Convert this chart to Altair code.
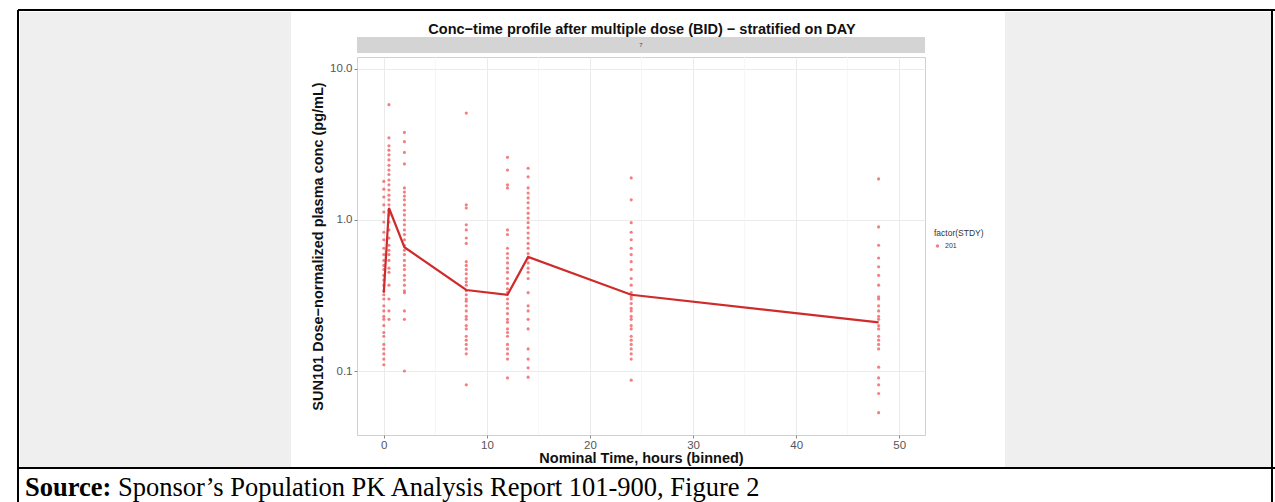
import altair as alt
import pandas as pd

# ---------------- data ----------------
bin_times = [0, 0.5, 2, 8, 12, 14, 24, 48]

conc_t0 = [1.8, 1.6, 1.42, 1.26, 1.13, 0.97, 0.83, 0.74, 0.65, 0.59, 0.54, 0.50, 0.47,
           0.43, 0.40, 0.37, 0.34, 0.32, 0.30, 0.27, 0.25, 0.23, 0.22, 0.20, 0.18, 0.17,
           0.15, 0.14, 0.13, 0.12, 0.11]
conc_t05 = [5.8, 3.5, 3.1, 2.9, 2.7, 2.5, 2.3, 2.14, 2.0, 1.84, 1.71, 1.58, 1.46, 1.36,
            1.26, 1.16, 1.08, 0.97, 0.86, 0.76, 0.68, 0.63, 0.59, 0.54, 0.48, 0.45, 0.37,
            0.30, 0.25, 0.22]
conc_t2 = [3.8, 3.3, 2.8, 2.35, 1.63, 1.53, 1.44, 1.36, 1.26, 1.16, 1.08, 1.0, 0.93, 0.86,
           0.80, 0.74, 0.68, 0.63, 0.59, 0.54, 0.50, 0.47, 0.43, 0.40, 0.37, 0.34, 0.33,
           0.25, 0.22, 0.10]
conc_t8 = [5.1, 1.26, 1.2, 0.93, 0.86, 0.76, 0.70, 0.53, 0.50, 0.47, 0.44, 0.41, 0.39,
           0.37, 0.34, 0.32, 0.30, 0.29, 0.27, 0.25, 0.23, 0.22, 0.20, 0.19, 0.17, 0.16,
           0.15, 0.14, 0.13, 0.081]
conc_t12 = [2.6, 2.14, 1.71, 1.63, 0.86, 0.80, 0.65, 0.60, 0.56, 0.52, 0.48, 0.45, 0.41,
            0.38, 0.35, 0.33, 0.30, 0.28, 0.26, 0.24, 0.22, 0.21, 0.19, 0.18, 0.17, 0.15,
            0.14, 0.13, 0.12, 0.09]
conc_t14 = [2.2, 1.93, 1.63, 1.51, 1.40, 1.30, 1.20, 1.11, 1.03, 0.96, 0.89, 0.82, 0.76,
            0.70, 0.65, 0.60, 0.56, 0.52, 0.48, 0.45, 0.41, 0.33, 0.27, 0.25, 0.22, 0.19,
            0.14, 0.12, 0.105, 0.091]
conc_t24 = [1.9, 1.36, 0.96, 0.83, 0.74, 0.65, 0.59, 0.53, 0.47, 0.41, 0.37, 0.33, 0.31,
            0.30, 0.28, 0.26, 0.25, 0.23, 0.22, 0.20, 0.19, 0.17, 0.16, 0.15, 0.14, 0.13,
            0.12, 0.087]
conc_t48 = [1.87, 0.90, 0.68, 0.56, 0.49, 0.43, 0.37, 0.31, 0.30, 0.27, 0.25, 0.23, 0.22,
            0.20, 0.19, 0.17, 0.16, 0.15, 0.14, 0.106, 0.09, 0.081, 0.071, 0.053]

conc_by_bin = [conc_t0, conc_t05, conc_t2, conc_t8, conc_t12, conc_t14, conc_t24, conc_t48]

line_times = [0, 0.5, 2, 8, 12, 14, 24, 48]
line_conc = [0.33, 1.2, 0.66, 0.344, 0.32, 0.57, 0.32, 0.21]

x_ticks = [0, 10, 20, 30, 40, 50]
x_minor = [5, 15, 25, 35, 45]
y_ticks = [0.1, 1.0, 10.0]
study_label = "201"
facet_label = "7"

title_text = "Conc\u2212time profile after multiple dose (BID) \u2212 stratified on DAY"
x_title = "Nominal Time, hours (binned)"
y_title = "SUN101 Dose\u2212normalized plasma conc (pg/mL)"
source_bold = "Source:"
source_rest = "Sponsor\u2019s Population PK Analysis Report 101-900, Figure 2"

# ---------------- frames ----------------
rows = []
for t, vals in zip(bin_times, conc_by_bin):
    for v in vals:
        rows.append({"time": t, "conc": v, "STDY": study_label})
pts_df = pd.DataFrame(rows)
line_df = pd.DataFrame({"time": line_times, "conc": line_conc})
minor_df = pd.DataFrame({"time": x_minor})
one = pd.DataFrame({"k": [0]})

W, H = 568, 378
SANS = "Liberation Sans, Arial, sans-serif"

xscale = alt.Scale(domain=[-2.6, 52.5], nice=False, zero=False)
yscale = alt.Scale(type="log", domain=[0.0377, 12.0], nice=False)

x_axis = alt.Axis(values=x_ticks, format="d", grid=True, gridColor="#ebebeb",
                  labelFont=SANS, labelFontSize=11.5, labelColor="#555",
                  tickColor="#888", tickSize=3, labelPadding=1, domain=False,
                  titleFont=SANS, titleFontSize=14.5, titleFontWeight="bold",
                  titleColor="#111", titleX=284, titleY=23,
                  titleBaseline="middle", titleAlign="center")
y_axis = alt.Axis(values=y_ticks, format=".1f", grid=True, gridColor="#ebebeb",
                  labelFont=SANS, labelFontSize=11.5, labelColor="#555",
                  tickColor="#888", tickSize=3, labelPadding=2, domain=False,
                  titleFont=SANS, titleFontSize=14.5, titleFontWeight="bold",
                  titleColor="#111", titleX=-39, titleY=H / 2,
                  titleBaseline="middle", titleAlign="center")

# decorations (page background, frame, source line)
bg_left = alt.Chart(one).mark_rect(color="#efefef").encode(
    x=alt.value(-337), x2=alt.value(-66), y=alt.value(-45), y2=alt.value(410))
bg_right = alt.Chart(one).mark_rect(color="#efefef").encode(
    x=alt.value(648), x2=alt.value(914), y=alt.value(-45), y2=alt.value(410))
frame_top = alt.Chart(one).mark_rule(color="black", strokeWidth=2).encode(
    x=alt.value(-339), x2=alt.value(918), y=alt.value(-47))
frame_bottom = alt.Chart(one).mark_rule(color="black", strokeWidth=2).encode(
    x=alt.value(-339), x2=alt.value(918), y=alt.value(411))
frame_left = alt.Chart(one).mark_rule(color="black", strokeWidth=2).encode(
    x=alt.value(-339), y=alt.value(-47), y2=alt.value(445))
frame_right = alt.Chart(one).mark_rule(color="black", strokeWidth=2).encode(
    x=alt.value(915), y=alt.value(-47), y2=alt.value(445))

src1 = alt.Chart(one).mark_text(
    text=source_bold, font="Liberation Serif", fontSize=26.5, fontWeight="bold",
    align="left", baseline="alphabetic", color="black").encode(
    x=alt.value(-332), y=alt.value(439))
src2 = alt.Chart(one).mark_text(
    text=source_rest, font="Liberation Serif", fontSize=26.5,
    align="left", baseline="alphabetic", color="black").encode(
    x=alt.value(-239), y=alt.value(439))

title = alt.Chart(one).mark_text(
    text=title_text, font=SANS, fontSize=14.5, fontWeight="bold", color="#111",
    align="center", baseline="middle").encode(
    x=alt.value(W / 2 + 1), y=alt.value(-27))

strip = alt.Chart(one).mark_rect(color="#d4d4d4").encode(
    x=alt.value(0), x2=alt.value(W), y=alt.value(-20), y2=alt.value(-4))
strip_txt = alt.Chart(one).mark_text(
    text=facet_label, font=SANS, fontSize=6, color="#444").encode(
    x=alt.value(W / 2), y=alt.value(-12))

minor = alt.Chart(minor_df).mark_rule(color="#f4f4f4", strokeWidth=0.8).encode(
    x=alt.X("time:Q", scale=xscale, axis=x_axis, title=x_title),
    y=alt.value(0), y2=alt.value(H))

points = alt.Chart(pts_df).mark_circle(size=10, opacity=0.85).encode(
    x=alt.X("time:Q", scale=xscale, title=x_title, axis=x_axis),
    y=alt.Y("conc:Q", scale=yscale, title=y_title, axis=y_axis),
    color=alt.Color("STDY:N", scale=alt.Scale(domain=[study_label], range=["#F2686B"]),
                    legend=alt.Legend(title="factor(STDY)", orient="none",
                                      legendX=577, legendY=172,
                                      titleFont=SANS, titleFontSize=8.5,
                                      titleFontWeight="normal", titleColor="#333",
                                      labelFont=SANS, labelFontSize=7, labelColor="#333",
                                      symbolType="circle", symbolSize=12,
                                      symbolFillColor="#F2686B", symbolStrokeWidth=0)),
)

line = alt.Chart(line_df).mark_line(color="#cf2b2b", strokeWidth=2.2).encode(
    x=alt.X("time:Q", scale=xscale, title=x_title, axis=x_axis),
    y=alt.Y("conc:Q", scale=yscale, title=y_title, axis=y_axis),
)

chart = alt.layer(
    bg_left, bg_right, frame_top, frame_bottom, frame_left, frame_right,
    src1, src2, title, strip, strip_txt, minor, points, line
).properties(
    width=W, height=H,
    autosize=alt.AutoSizeParams(type="none"),
    padding={"left": 357, "top": 57, "right": 350, "bottom": 67},
    background="white",
).configure_view(stroke="#d0d0d0", strokeWidth=1)

chart.save("out.html", embed_options={"renderer": "svg", "actions": False})
